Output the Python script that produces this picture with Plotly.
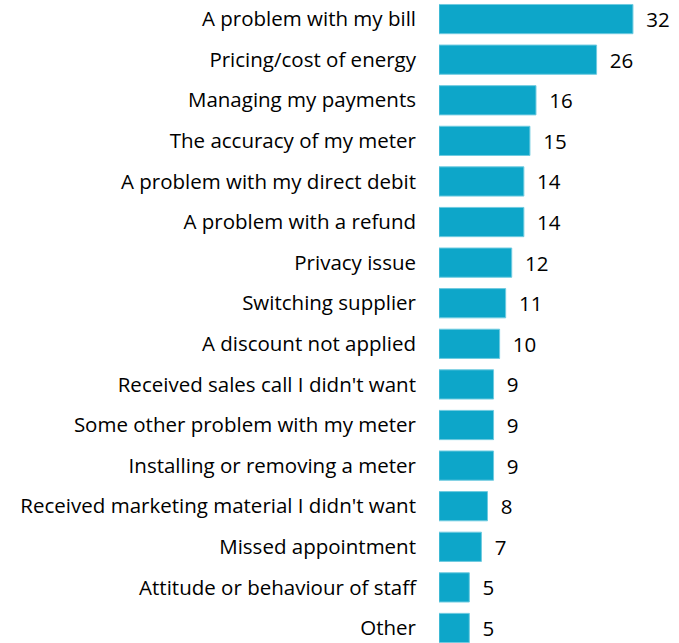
import plotly.graph_objects as go

# Complaint categories, top to bottom, with counts
categories = [
    "A problem with my bill",
    "Pricing/cost of energy",
    "Managing my payments",
    "The accuracy of my meter",
    "A problem with my direct debit",
    "A problem with a refund",
    "Privacy issue",
    "Switching supplier",
    "A discount not applied",
    "Received sales call I didn't want",
    "Some other problem with my meter",
    "Installing or removing a meter",
    "Received marketing material I didn't want",
    "Missed appointment",
    "Attitude or behaviour of staff",
    "Other",
]
values = [32, 26, 16, 15, 14, 14, 12, 11, 10, 9, 9, 9, 8, 7, 5, 5]

FONT = "Open Sans"

fig = go.Figure(
    go.Bar(
        x=values,
        y=categories,
        orientation="h",
        marker=dict(color="#0DA6C9", line=dict(color="#6FCBE0", width=1)),
        text=[f"\u2002{v}" for v in values],
        textposition="outside",
        textfont=dict(family=FONT, size=20.5, color="#000000"),
        cliponaxis=False,
        width=0.72,
    )
)

fig.update_layout(
    width=679,
    height=643,
    margin=dict(l=439, r=0, t=0, b=0),
    paper_bgcolor="white",
    plot_bgcolor="white",
    showlegend=False,
    font=dict(family=FONT, size=20.5, color="#000000"),
    xaxis=dict(range=[0, 39.6], visible=False),
    yaxis=dict(
        range=[15.37, -0.47],
        showgrid=False,
        zeroline=False,
        showline=False,
        ticks="",
        ticklabelstandoff=22,
        tickfont=dict(family=FONT, size=20.5, color="#000000"),
    ),
)

fig.write_html("out.html")
